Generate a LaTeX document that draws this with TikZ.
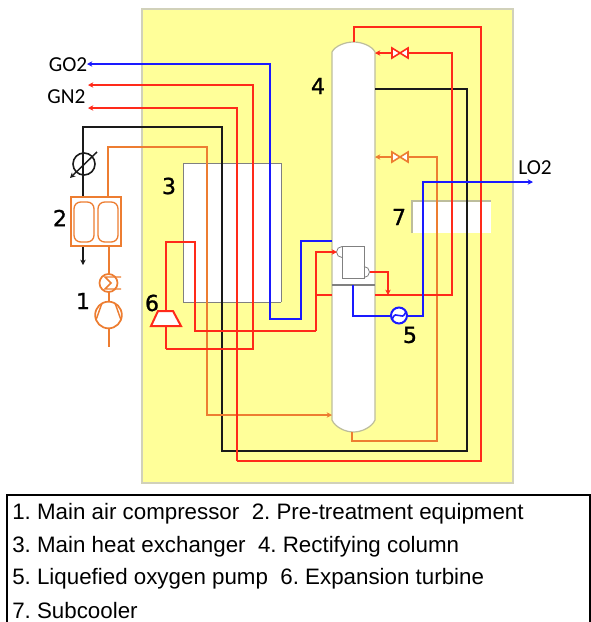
\documentclass[tikz,border=0pt]{standalone}
\usepackage{fontspec}
\setmainfont{Liberation Sans}
\newfontfamily\lblfont{Carlito}
\newfontfamily\numfont[FakeBold=1.2]{DejaVu Sans}
\usetikzlibrary{arrows.meta}
\definecolor{bgy}{HTML}{FFFF99}
\definecolor{bord}{HTML}{BDBD9C}
\definecolor{rd}{HTML}{FF2A1A}
\definecolor{bl}{HTML}{1A1AFF}
\definecolor{og}{HTML}{ED7D31}
\definecolor{bk}{HTML}{1A1A1A}
\tikzset{
  pipe/.style={line width=1.5pt,line join=miter},
  redp/.style={pipe,draw=rd},
  blup/.style={pipe,draw=bl},
  orap/.style={pipe,draw=og},
  blkp/.style={pipe,draw=bk},
  tip/.style={-{Stealth[length=4pt,width=4pt]}},
  numlab/.style={font=\numfont\fontsize{16.5}{16.5}\selectfont,inner sep=0pt,text=black},
  gaslab/.style={font=\lblfont\fontsize{16}{16}\selectfont,inner sep=0pt,text=black},
  legendline/.style={font=\fontsize{16.75}{16.75}\selectfont,inner sep=0pt,anchor=west,text=black},
  valvebody/.style={draw,fill=white,line width=1.2pt,line join=miter},
}
\begin{document}
\frenchspacing
\begin{tikzpicture}[x=0.75pt,y=-0.75pt]
\useasboundingbox (0,0) rectangle (591,622);
\fill[white] (0,0) rectangle (591,622);
% background
\draw[fill=bgy,draw=bord!70,line width=0.8pt] (142,9) rectangle (513,483);
% heat exchanger
\fill[white] (183,163) rectangle (281,302);
\draw[gray,line width=0.7pt] (281,302) -- (183,302) -- (183,163) -- (281,163) -- (281,302);
% subcooler
\fill[white] (412,201) rectangle (491,233);
\draw[bord,line width=0.8pt] (412,233) -- (412,201) -- (491,201);
% column
\draw[fill=white,draw=bord,line width=0.9pt] (332,52) .. controls (335,46) and (345,42) .. (353.5,42)
  .. controls (362,42) and (372,46) .. (375,52) -- (375,420)
  .. controls (372,427) and (362,432) .. (353.5,432)
  .. controls (345,432) and (335,427) .. (332,420) -- cycle;
\coordinate (coltop) at (354,42);
\coordinate (colbot) at (352,432);
\draw[gray,line width=1.2pt] (332,285) -- (375,285);
% condenser
\node[draw=gray,fill=white,line width=0.6pt,minimum width=16.5pt,minimum height=24pt,inner sep=0pt] (cond) at (353,262) {};
\draw[gray,line width=0.6pt] (342,246.5) arc[start angle=270,end angle=90,radius=5.5];
\draw[gray,line width=0.6pt] (364,266.5) arc[start angle=-90,end angle=90,radius=5.5];
% black
\coordinate (blkstart) at (375,89);
\draw[blkp] (blkstart) -- (467,89) -- (467,451) -- (222,451) -- (222,127) -- (83,127) -- (83,197);
\draw[blkp,tip] (83,246) -- (83,265);
% orange
\draw[orap,tip] (108,197) -- (108,147) -- (207,147) -- (207,415) -- (332,415);
\draw[orap] (colbot) -- (352,441) -- (437,441) -- (437,157) -- (408,157);
\draw[orap,tip] (392,157) -- (375,157);
\draw[valvebody,draw=og] (392,152) -- (408,162) -- (408,152) -- (392,162) -- cycle;
% red
\draw[redp,tip] (237,461) -- (237,108) -- (88,108);
\draw[redp] (coltop) -- (354,27) -- (481,27) -- (481,461) -- (237,461);
\draw[redp,tip] (165.5,349) -- (253,349) -- (253,85) -- (88,85);
\draw[redp] (165.5,326) -- (165.5,349);
\draw[redp] (165.5,311) -- (165.5,242) -- (195,242) -- (195,331) -- (316,331);
\draw[redp,tip] (316,331) -- (316,252) -- (337,252);
\draw[redp] (316,295) -- (332,295);
\draw[redp] (375,295) -- (452,295) -- (452,53) -- (408,53);
\draw[redp,tip] (392,53) -- (375,53);
\draw[redp,tip] (369.5,272) -- (388,272) -- (388,295);
\draw[valvebody,draw=rd] (392,48) -- (408,58) -- (408,48) -- (392,58) -- cycle;
% blue
\draw[blup,tip] (332,241) -- (301,241) -- (301,319) -- (270,319) -- (270,64) -- (87,64);
\draw[blup] (353,285) -- (353,316) -- (391,316);
\draw[blup,tip] (407,316) -- (422.5,316) -- (422.5,182) -- (533,182);
\node[draw=bl,fill=white,circle,line width=1.5pt,minimum size=12pt,inner sep=0pt] (pump) at (399,315.5) {};
\draw[bl,line width=1.2pt] (392,320) .. controls (396,307) and (402,324) .. (406,311);
% turbine
\draw[redp,fill=white,line join=miter] (158,311) -- (173,311) -- (181,326) -- (151,326) -- cycle;
% drier
\node[draw=og,line width=1.2pt,fill=white,minimum width=37.5pt,minimum height=37pt,inner sep=0pt] (dry) at (96,221.5) {};
\draw[og,line width=1pt,rounded corners=5pt] (74,202) rectangle (94,242);
\draw[og,line width=1pt,rounded corners=5pt] (98,202) rectangle (118,242);
% filter symbol
\node[draw=bk,circle,line width=1.2pt,minimum size=16.5pt,inner sep=0pt] (filter) at (84,164) {};
\draw[bk,line width=1.1pt,-{Stealth[length=4pt,width=4pt]}] (97,152) -- (70,178);
% compressor train
\draw[orap] (108.5,246) -- (108.5,274);
\node[draw=og,circle,line width=1.3pt,fill=none,minimum size=13.5pt,inner sep=0pt] (cool) at (108.5,283) {};
\draw[og,line width=1.1pt] (121,277) -- (105,277) -- (111,283) -- (105,289) -- (121,289);
\draw[orap] (108.5,292) -- (108.5,302);
\node[draw=og,circle,line width=1.3pt,fill=none,minimum size=20pt,inner sep=0pt] (comp) at (108.5,315) {};
\draw[og,line width=1.1pt] (102,303) -- (96,320);
\draw[og,line width=1.1pt] (115,303) -- (121,320);
\draw[orap] (comp.south) -- (108.5,347);
% labels
\node[gaslab] (go) at (68,65) {GO2};
\node[gaslab] (gn) at (66.5,97) {GN2};
\node[gaslab] (lo) at (535,168) {LO2};
\node[numlab] (n1) at (83,301) {1};
\node[numlab] (n2) at (60,218) {2};
\node[numlab] (n3) at (169,186) {3};
\node[numlab] (n4) at (318,86) {4};
\node[numlab] (n5) at (410,335) {5};
\node[numlab] (n6) at (152,303) {6};
\node[numlab] (n7) at (399,217) {7};
% legend
\draw[black,line width=1pt] (7,622) -- (7,495) -- (590,495) -- (590,622);
\node[legendline] (l1) at (12,514) {1. Main air compressor\ \ 2. Pre-treatment equipment};
\node[legendline] (l2) at (12,547) {3. Main heat exchanger\ \ 4. Rectifying column};
\node[legendline] (l3) at (12,579) {5. Liquefied oxygen pump\ \ 6. Expansion turbine};
\node[legendline] (l4) at (12,611) {7. Subcooler};
\end{tikzpicture}
\end{document}
